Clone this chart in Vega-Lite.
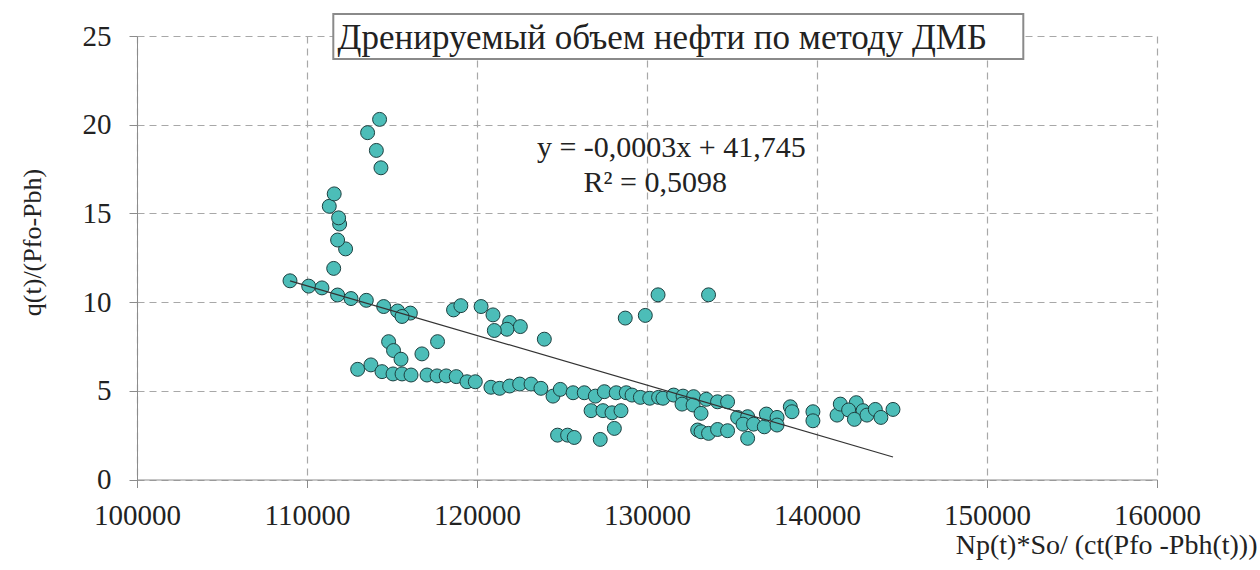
{
  "$schema": "https://vega.github.io/schema/vega-lite/v6.json",
  "width": 1020,
  "height": 443.5,
  "autosize": {"type": "none"},
  "padding": {"left": 137, "top": 36, "right": 103, "bottom": 90},
  "background": "white",
  "config": {
    "view": {"stroke": null},
    "font": "Liberation Serif",
    "axis": {
      "labelFont": "Liberation Serif",
      "titleFont": "Liberation Serif",
      "labelFontSize": 29,
      "titleFontSize": 27,
      "titleFontWeight": "normal",
      "labelColor": "#222222",
      "titleColor": "#222222",
      "domainColor": "#8c8c8c",
      "tickColor": "#8c8c8c",
      "tickSize": 8,
      "gridColor": "#a8a8a8",
      "gridDash": [7, 5],
      "gridWidth": 1.2
    }
  },
  "datasets": {
    "trend": [
      {"x": 109000, "y": 11.2},
      {"x": 144470, "y": 1.27}
    ]
  },
  "data": {
    "values": [
      {"x": 109000, "y": 11.2}, {"x": 110100, "y": 10.9}, {"x": 110880, "y": 10.8}, {"x": 111800, "y": 10.4},
      {"x": 112590, "y": 10.2}, {"x": 113490, "y": 10.1}, {"x": 114510, "y": 9.75}, {"x": 115330, "y": 9.5},
      {"x": 116080, "y": 9.38}, {"x": 115590, "y": 9.19}, {"x": 111570, "y": 11.9}, {"x": 112270, "y": 13.0},
      {"x": 111800, "y": 13.5}, {"x": 111920, "y": 14.4}, {"x": 111860, "y": 14.75}, {"x": 111310, "y": 15.4},
      {"x": 111600, "y": 16.1}, {"x": 114350, "y": 17.57}, {"x": 114080, "y": 18.55}, {"x": 113565, "y": 19.55},
      {"x": 114270, "y": 20.3}, {"x": 118620, "y": 9.56}, {"x": 119050, "y": 9.8}, {"x": 120240, "y": 9.75},
      {"x": 120940, "y": 9.28}, {"x": 121920, "y": 8.85}, {"x": 122550, "y": 8.62}, {"x": 121760, "y": 8.47},
      {"x": 121020, "y": 8.4}, {"x": 123960, "y": 7.91}, {"x": 128720, "y": 9.1}, {"x": 129900, "y": 9.25},
      {"x": 130650, "y": 10.41}, {"x": 133620, "y": 10.41}, {"x": 114800, "y": 7.77}, {"x": 115090, "y": 7.27},
      {"x": 115530, "y": 6.78}, {"x": 116760, "y": 7.08}, {"x": 117680, "y": 7.77}, {"x": 112980, "y": 6.21},
      {"x": 113760, "y": 6.46}, {"x": 114410, "y": 6.08}, {"x": 115060, "y": 5.95}, {"x": 115590, "y": 5.95},
      {"x": 116120, "y": 5.89}, {"x": 117060, "y": 5.89}, {"x": 117650, "y": 5.84}, {"x": 118190, "y": 5.84},
      {"x": 118780, "y": 5.8}, {"x": 119410, "y": 5.51}, {"x": 119900, "y": 5.51}, {"x": 120820, "y": 5.2},
      {"x": 121330, "y": 5.14}, {"x": 121920, "y": 5.27}, {"x": 122510, "y": 5.38}, {"x": 123180, "y": 5.38},
      {"x": 123760, "y": 5.14}, {"x": 124470, "y": 4.7}, {"x": 124900, "y": 5.08}, {"x": 125650, "y": 4.89},
      {"x": 126310, "y": 4.89}, {"x": 126960, "y": 4.7}, {"x": 127490, "y": 4.95}, {"x": 128190, "y": 4.89},
      {"x": 128780, "y": 4.89}, {"x": 129120, "y": 4.76}, {"x": 129610, "y": 4.63}, {"x": 130160, "y": 4.58},
      {"x": 130680, "y": 4.63}, {"x": 130940, "y": 4.58}, {"x": 131570, "y": 4.76}, {"x": 132120, "y": 4.7},
      {"x": 132740, "y": 4.67}, {"x": 133490, "y": 4.52}, {"x": 134150, "y": 4.38}, {"x": 134740, "y": 4.38},
      {"x": 132060, "y": 4.25}, {"x": 132710, "y": 4.2}, {"x": 133180, "y": 3.73}, {"x": 126710, "y": 3.88},
      {"x": 127410, "y": 3.88}, {"x": 127940, "y": 3.76}, {"x": 128470, "y": 3.88}, {"x": 128080, "y": 2.88},
      {"x": 127250, "y": 2.26}, {"x": 124740, "y": 2.5}, {"x": 125330, "y": 2.5}, {"x": 125720, "y": 2.37},
      {"x": 132980, "y": 2.79}, {"x": 133180, "y": 2.69}, {"x": 133620, "y": 2.6}, {"x": 134150, "y": 2.82},
      {"x": 134740, "y": 2.75}, {"x": 135330, "y": 3.5}, {"x": 135920, "y": 3.54}, {"x": 135650, "y": 3.12},
      {"x": 136270, "y": 3.12}, {"x": 136900, "y": 2.97}, {"x": 137020, "y": 3.69}, {"x": 137650, "y": 3.5},
      {"x": 137650, "y": 3.07}, {"x": 135920, "y": 2.32}, {"x": 138430, "y": 4.1}, {"x": 138530, "y": 3.82},
      {"x": 139760, "y": 3.82}, {"x": 139760, "y": 3.31}, {"x": 141180, "y": 3.63}, {"x": 141370, "y": 4.25},
      {"x": 142310, "y": 4.33}, {"x": 141860, "y": 3.92}, {"x": 142710, "y": 3.88}, {"x": 142200, "y": 3.39},
      {"x": 142940, "y": 3.63}, {"x": 143430, "y": 3.95}, {"x": 143760, "y": 3.5}, {"x": 144470, "y": 3.95}
    ]
  },
  "layer": [
    {
      "mark": {"type": "point", "filled": true, "shape": "circle", "size": 195, "fill": "#4cbdb8", "stroke": "#1d4040", "strokeWidth": 1, "opacity": 1},
      "encoding": {
        "x": {
          "field": "x", "type": "quantitative",
          "scale": {"domain": [100000, 160000], "nice": false, "zero": false},
          "axis": {
            "values": [100000, 110000, 120000, 130000, 140000, 150000, 160000],
            "format": "d",
            "labelPadding": 14,
            "labelFlush": false,
            "title": "Np(t)*So/ (ct(Pfo -Pbh(t)))",
            "titleAnchor": "end",
            "titleAlign": "right",
            "titleBaseline": "alphabetic",
            "titleX": 1120,
            "titleY": 74,
            "titleFontSize": 28
          }
        },
        "y": {
          "field": "y", "type": "quantitative",
          "scale": {"domain": [0, 25], "nice": false},
          "axis": {
            "values": [0, 5, 10, 15, 20, 25],
            "labelPadding": 18,
            "labelFlush": false,
            "title": "q(t)/(Pfo-Pbh)",
            "titleAngle": 270,
            "titleAlign": "center",
            "titleBaseline": "middle",
            "titleX": -105,
            "titleY": 206,
            "titleFontSize": 26
          }
        }
      }
    },
    {
      "data": {"name": "trend"},
      "mark": {"type": "line", "color": "#333333", "strokeWidth": 1.2},
      "encoding": {
        "x": {"field": "x", "type": "quantitative"},
        "y": {"field": "y", "type": "quantitative"}
      }
    },
    {
      "data": {"values": [{}]},
      "mark": {"type": "rect", "fill": "white", "stroke": "#8a8a8a", "strokeWidth": 2, "clip": false},
      "encoding": {
        "x": {"datum": 111547},
        "x2": {"datum": 152135},
        "y": {"datum": 26.24},
        "y2": {"datum": 23.7}
      }
    },
    {
      "data": {"values": [{"t": "Дренируемый объем нефти по методу ДМБ"}]},
      "mark": {"type": "text", "fontSize": 35, "font": "Liberation Serif", "color": "#222222", "align": "center", "baseline": "alphabetic"},
      "encoding": {
        "x": {"datum": 130900},
        "y": {"datum": 24.27},
        "text": {"field": "t"}
      }
    },
    {
      "data": {"values": [{"t": "y = -0,0003x + 41,745"}]},
      "mark": {"type": "text", "fontSize": 30, "font": "Liberation Serif", "color": "#222222", "align": "center", "baseline": "alphabetic"},
      "encoding": {
        "x": {"datum": 131430},
        "y": {"datum": 18.2},
        "text": {"field": "t"}
      }
    },
    {
      "data": {"values": [{"t": "R² = 0,5098"}]},
      "mark": {"type": "text", "fontSize": 30, "font": "Liberation Serif", "color": "#222222", "align": "center", "baseline": "alphabetic"},
      "encoding": {
        "x": {"datum": 130490},
        "y": {"datum": 16.2},
        "text": {"field": "t"}
      }
    }
  ]
}
